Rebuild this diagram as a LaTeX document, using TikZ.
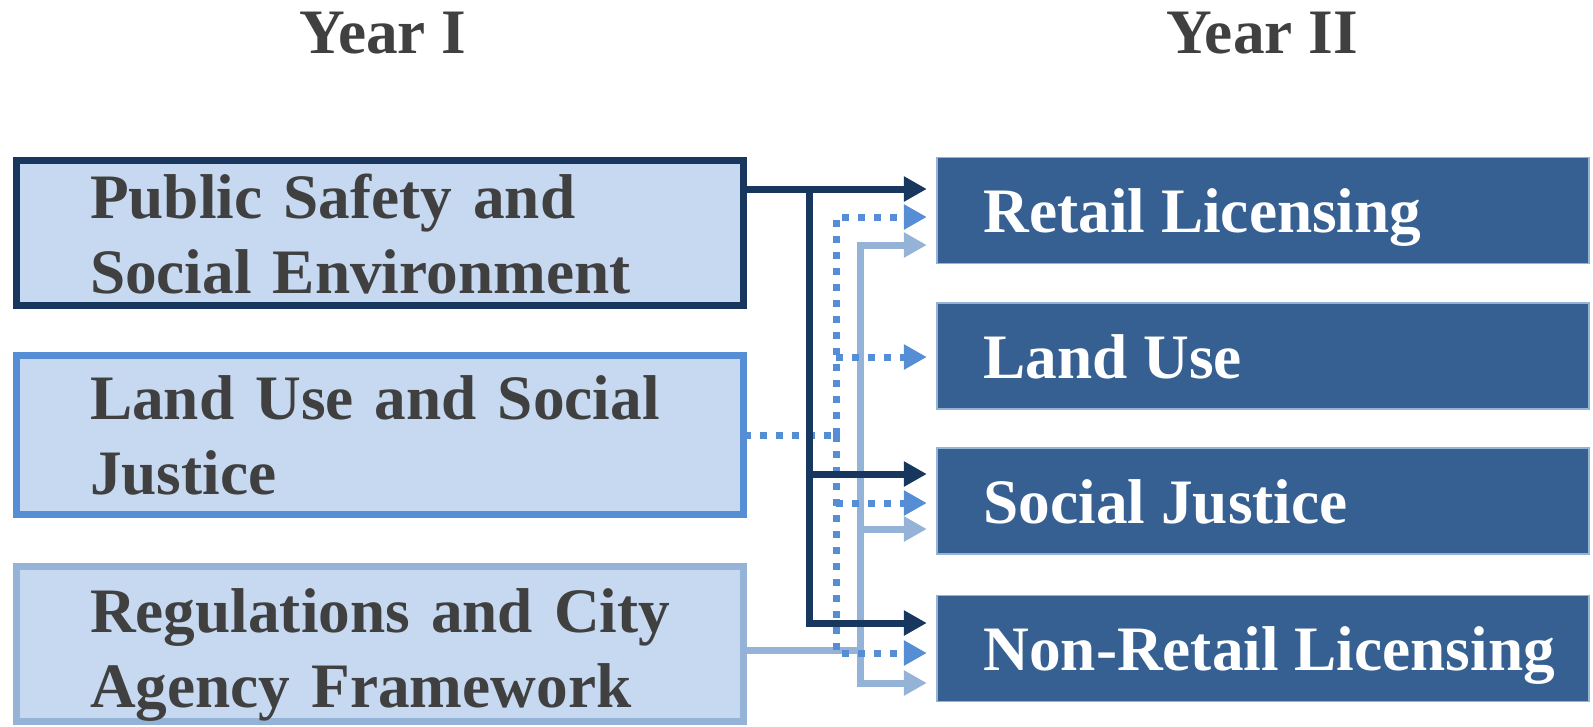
\documentclass[tikz,border=0pt]{standalone}
\usepackage{fontspec}
\setmainfont{Liberation Serif}
\usepackage{tikz}
\usetikzlibrary{arrows.meta, positioning}
\definecolor{navy}{HTML}{17375E}
\definecolor{midblue}{HTML}{558ED5}
\definecolor{paleblue}{HTML}{95B3D7}
\definecolor{boxfill}{HTML}{C6D9F1}
\definecolor{steel}{HTML}{366092}
\definecolor{inkgrey}{HTML}{404040}

\begin{document}
\begin{tikzpicture}[x=0.01cm, y=-0.01cm,
    every node/.style={font=\fontsize{18}{21.6}\selectfont\bfseries},
    yearbox/.style={draw, fill=boxfill, line width=0.07cm, minimum width=7.27cm, inner sep=0pt, outer sep=0pt},
    yeartext/.style={text=inkgrey, align=left, text width=6.4cm, inner sep=0pt, anchor=base west},
    yeartitle/.style={text=inkgrey, inner sep=0pt, anchor=base},
    topicbox/.style={draw=paleblue, line width=0.4pt, fill=steel, minimum width=6.52cm, minimum height=1.06cm, inner sep=0pt, outer sep=0pt},
    topictext/.style={text=white, inner sep=0pt, anchor=base west},
    navyline/.style={draw=navy, line width=0.07cm},
    navyarrow/.style={navyline, -{Triangle[length=0.23cm, width=0.24cm]}, shorten >=0.1cm},
    dotline/.style={draw=midblue, line width=0.07cm, dash pattern=on 0.07cm off 0.09cm},
    dotarrow/.style={dotline, -{Triangle[length=0.23cm, width=0.24cm]}, shorten >=0.1cm},
    paleline/.style={draw=paleblue, line width=0.07cm},
    palearrow/.style={paleline, -{Triangle[length=0.23cm, width=0.24cm]}, shorten >=0.1cm}]
\useasboundingbox (0,0) rectangle (1593,726);

% column titles
\node[yeartitle] (yearI) at (383,53) {Year I};
\node[yeartitle] (yearII) at (1262,53) {Year II};

% year I topics
\node[yearbox, draw=navy, minimum height=1.45cm] (pse) at (380,233) {};
\node[yeartext] (pseT) at ([xshift=0.73cm, yshift=0.15cm]pse.west) {Public Safety and\\Social Environment};
\node[yearbox, draw=midblue, minimum height=1.58cm] (lusj) at (380,435) {};
\node[yeartext] (lusjT) at ([xshift=0.73cm, yshift=0.16cm]lusj.west) {Land Use and Social\\Justice};
\node[yearbox, draw=paleblue, minimum height=1.54cm] (reg) at (380,644) {};
\node[yeartext] (regT) at ([xshift=0.73cm, yshift=0.12cm]reg.west) {Regulations and City\\Agency Framework};

% year II topics
\node[topicbox] (retail) at (1263,210.5) {};
\node[topictext] (retailT) at ([xshift=0.46cm, yshift=-0.22cm]retail.west) {Retail Licensing};
\node[topicbox] (landuse) at (1263,356) {};
\node[topictext] (landuseT) at ([xshift=0.46cm, yshift=-0.22cm]landuse.west) {Land Use};
\node[topicbox] (justice) at (1263,501) {};
\node[topictext] (justiceT) at ([xshift=0.46cm, yshift=-0.22cm]justice.west) {Social Justice};
\node[topicbox] (nonretail) at (1263,648.5) {};
\node[topictext] (nonretailT) at ([xshift=0.46cm, yshift=-0.22cm]nonretail.west) {Non-Retail Licensing};

% pale links
\coordinate (paleBus) at (860,650);
\draw[paleline] (reg.east |- paleBus) -- (paleBus);
\draw[palearrow] (paleBus) |- (retail.west |- 0,245);
\draw[palearrow] (paleBus |- 0,529) -- (justice.west |- 0,529);
\draw[palearrow] (paleBus) |- (nonretail.west |- 0,683);

% dotted links
\coordinate (dotBus) at (836,435);
\draw[dotline] (lusj.east |- dotBus) -- (dotBus);
\draw[dotarrow] (dotBus) |- (retail.west |- 0,217);
\draw[dotarrow] (dotBus |- 0,357) -- (landuse.west |- 0,357);
\draw[dotarrow] (dotBus |- 0,503) -- (justice.west |- 0,503);
\draw[dotarrow] (dotBus) |- (nonretail.west |- 0,653);

% navy links
\coordinate (navyTop) at (809,189);
\coordinate (navyBot) at (809,623);
\draw[navyarrow] (pse.east |- navyTop) -- (retail.west |- navyTop);
\draw[navyarrow] (navyTop) -- (navyBot) -- (nonretail.west |- navyBot);
\draw[navyarrow] (navyTop |- 0,474) -- (justice.west |- 0,474);
\end{tikzpicture}
\end{document}
